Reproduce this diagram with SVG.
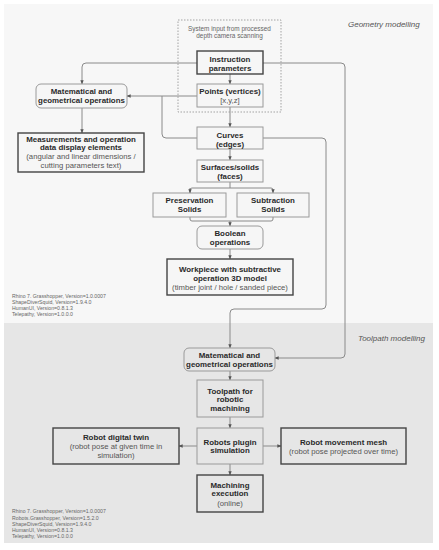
<svg xmlns="http://www.w3.org/2000/svg" width="439" height="550" viewBox="0 0 439 550">
<style>
text{font-family:"Liberation Sans",Arial,sans-serif;fill:#2a2a2a;text-anchor:middle}
.b{font-weight:bold;font-size:7.9px}
.n{font-size:7.7px;fill:#555}
.s{font-size:6.4px;fill:#666}
.v{font-size:5.2px;fill:#666;text-anchor:start}
.i{font-style:italic;font-size:8px;fill:#555;text-anchor:start}
.thin{fill:#f6f6f6;stroke:#9a9a9a;stroke-width:1}
.thinD{fill:#e6e6e6;stroke:#9a9a9a;stroke-width:1}
.thick{fill:#f6f6f6;stroke:#444;stroke-width:1.4}
.thickD{fill:#e6e6e6;stroke:#444;stroke-width:1.4}
.c{fill:none;stroke:#8a8a8a;stroke-width:1}
</style>
<defs>
<marker id="ar" viewBox="0 0 6 6" refX="5.5" refY="3" markerWidth="4" markerHeight="4" orient="auto">
<path d="M0,0.5 L6,3 L0,5.5 z" fill="#555"/>
</marker>
</defs>
<rect x="0" y="0" width="439" height="550" fill="#ffffff"/>
<rect x="4" y="4" width="429" height="319" fill="#f7f7f7"/>
<rect x="4" y="323" width="429" height="220" fill="#e6e6e6"/>

<text class="i" x="348" y="27">Geometry modelling</text>
<text class="i" x="358" y="341">Toolpath modelling</text>

<g id="versions-top">
<text class="v" x="12" y="298">Rhino 7. Grasshopper, Version=1.0.0007</text>
<text class="v" x="12" y="304">ShapeDiverSquid, Version=1.9.4.0</text>
<text class="v" x="12" y="310">HumanUI, Version=0.8.1.3</text>
<text class="v" x="12" y="316">Telepathy, Version=1.0.0.0</text>
</g>
<g id="versions-bottom">
<text class="v" x="12" y="513">Rhino 7. Grasshopper, Version=1.0.0007</text>
<text class="v" x="12" y="519.5">Robots.Grasshopper, Version=1.5.2.0</text>
<text class="v" x="12" y="526">ShapeDiverSquid, Version=1.9.4.0</text>
<text class="v" x="12" y="532">HumanUI, Version=0.8.1.3</text>
<text class="v" x="12" y="538">Telepathy, Version=1.0.0.0</text>
</g>

<g id="connectors">
<path class="c" d="M197,63 H86 Q82,63 82,67 V84" marker-end="url(#ar)"/>
<path class="c" d="M197,96 H127" marker-end="url(#ar)"/>
<path class="c" d="M197,138 H166 Q162,138 162,134 V96"/>
<path class="c" d="M82,108 V133" marker-end="url(#ar)"/>
<path class="c" d="M230,74 V84" marker-end="url(#ar)"/>
<path class="c" d="M230,107 V127" marker-end="url(#ar)"/>
<path class="c" d="M230,149 V160" marker-end="url(#ar)"/>
<path class="c" d="M230,182 V188"/>
<path class="c" d="M190,193 V190 Q190,188 192,188 H271 Q273,188 273,190 V193" marker-end="url(#ar)"/>
<path class="c" d="M190,188 Q190,188 190,193" marker-end="url(#ar)"/>
<path class="c" d="M190,217 V219 Q190,221 192,221 H271 Q273,221 273,219 V217"/>
<path class="c" d="M230,221 V226" marker-end="url(#ar)"/>
<path class="c" d="M230,249 V259" marker-end="url(#ar)"/>
<path class="c" d="M263,63 H341 Q345,63 345,67 V354 Q345,358 341,358 H275" marker-end="url(#ar)"/>
<path class="c" d="M263,138 H322 Q326,138 326,142 V305 Q326,309 322,309 H234 Q230,309 230,313 V348" marker-end="url(#ar)"/>
<path class="c" d="M230,371 V380" marker-end="url(#ar)"/>
<path class="c" d="M230,417 V428" marker-end="url(#ar)"/>
<path class="c" d="M230,464 V475" marker-end="url(#ar)"/>
<path class="c" d="M197,446 H179" marker-end="url(#ar)"/>
<path class="c" d="M263,446 H281" marker-end="url(#ar)"/>
</g>

<g id="system-input">
<rect x="178" y="20" width="103" height="92" fill="none" stroke="#999" stroke-width="0.9" stroke-dasharray="1.5,1.5"/>
<text class="s" x="229.5" y="30.5">System input from processed</text>
<text class="s" x="229.5" y="37.5">depth camera scanning</text>
</g>

<g id="instruction">
<rect class="thick" x="197" y="51" width="66" height="23"/>
<text class="b" x="230" y="61.5">Instruction</text>
<text class="b" x="230" y="70.5">parameters</text>
</g>
<g id="points">
<rect class="thin" x="197" y="84" width="66" height="23"/>
<text class="b" x="230" y="94">Points (vertices)</text>
<text class="n" x="230" y="103">[x,y,z]</text>
</g>
<g id="math1">
<rect class="thin" x="36" y="84" width="91" height="24" rx="5"/>
<text class="b" x="81.5" y="94">Matematical and</text>
<text class="b" x="81.5" y="103">geometrical operations</text>
</g>
<g id="measurements">
<rect class="thick" x="18" y="133" width="126" height="39"/>
<text class="b" x="81" y="141.5">Measurements and operation</text>
<text class="b" x="81" y="150">data display elements</text>
<text class="n" x="81" y="158.5">(angular and linear dimensions /</text>
<text class="n" x="81" y="167.5">cutting parameters text)</text>
</g>
<g id="curves">
<rect class="thin" x="197" y="127" width="66" height="22"/>
<text class="b" x="230" y="137.5">Curves</text>
<text class="b" x="230" y="146.5">(edges)</text>
</g>
<g id="surfaces">
<rect class="thin" x="197" y="160" width="66" height="22"/>
<text class="b" x="230" y="170">Surfaces/solids</text>
<text class="b" x="230" y="179">(faces)</text>
</g>
<g id="preservation">
<rect class="thin" x="153" y="193" width="73" height="24"/>
<text class="b" x="189.5" y="203">Preservation</text>
<text class="b" x="189.5" y="212">Solids</text>
</g>
<g id="subtraction">
<rect class="thin" x="237" y="193" width="72" height="24"/>
<text class="b" x="273" y="203">Subtraction</text>
<text class="b" x="273" y="212">Solids</text>
</g>
<g id="boolean">
<rect class="thin" x="197" y="226" width="66" height="23" rx="5"/>
<text class="b" x="230" y="236">Boolean</text>
<text class="b" x="230" y="245">operations</text>
</g>
<g id="workpiece">
<rect class="thick" x="167" y="259" width="126" height="36"/>
<text class="b" x="230" y="271.5">Workpiece with subtractive</text>
<text class="b" x="230" y="280.5">operation 3D model</text>
<text class="n" x="230" y="289.5">(timber joint / hole / sanded piece)</text>
</g>

<g id="math2">
<rect class="thinD" x="184" y="348" width="91" height="23" rx="5"/>
<text class="b" x="229.5" y="358">Matematical and</text>
<text class="b" x="229.5" y="366.5">geometrical operations</text>
</g>
<g id="toolpath">
<rect class="thinD" x="197" y="380" width="66" height="37"/>
<text class="b" x="230" y="393.5">Toolpath for</text>
<text class="b" x="230" y="402">robotic</text>
<text class="b" x="230" y="411">machining</text>
</g>
<g id="robots-plugin">
<rect class="thinD" x="197" y="428" width="66" height="36"/>
<text class="b" x="230" y="444.5">Robots plugin</text>
<text class="b" x="230" y="453">simulation</text>
</g>
<g id="digital-twin">
<rect class="thickD" x="53" y="428" width="126" height="36"/>
<text class="b" x="116" y="440">Robot digital twin</text>
<text class="n" x="116" y="449">(robot pose at given time in</text>
<text class="n" x="116" y="458">simulation)</text>
</g>
<g id="movement-mesh">
<rect class="thickD" x="281" y="428" width="125" height="36"/>
<text class="b" x="343.5" y="444.5">Robot movement mesh</text>
<text class="n" x="343.5" y="453.5">(robot pose projected over time)</text>
</g>
<g id="machining">
<rect class="thickD" x="197" y="475" width="66" height="37"/>
<text class="b" x="230" y="487.5">Machining</text>
<text class="b" x="230" y="496">execution</text>
<text class="n" x="230" y="505.5">(online)</text>
</g>
</svg>
